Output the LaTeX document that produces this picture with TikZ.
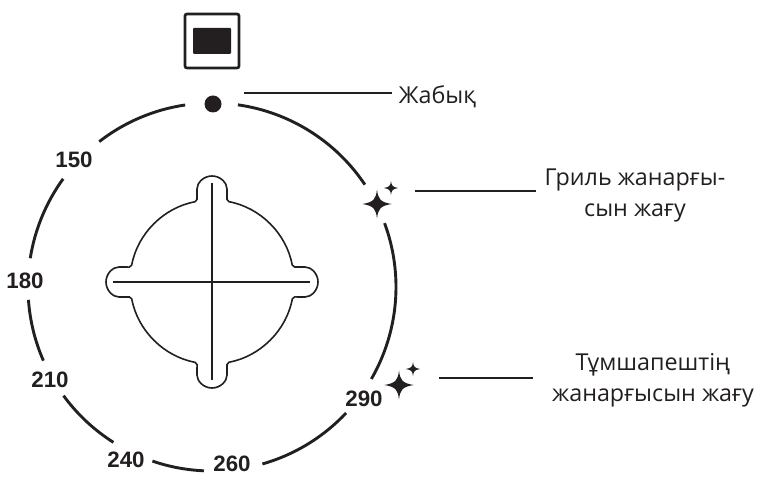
\documentclass[tikz,border=0pt]{standalone}
\usepackage{fontspec}
\setmainfont{Open Sans}
\newfontfamily\numfont{Liberation Sans}
\definecolor{ink}{HTML}{231F20}
\newcommand{\sparkle}[3]{\fill[ink,shift={(#1,#2)},scale=#3] (0,1) .. controls (0.08,0.35) and (0.2,0.14) .. (1,0) .. controls (0.2,-0.14) and (0.08,-0.35) .. (0,-1) .. controls (-0.08,-0.35) and (-0.2,-0.14) .. (-1,0) .. controls (-0.2,0.14) and (-0.08,0.35) .. cycle;}
\newcommand{\ringarc}[2]{\draw[ring] ([shift={(#1:184pt)}]ringc) arc[start angle=#1,end angle=#2,radius=184pt];}
\tikzset{
  ring/.style={draw=ink,line width=2.9pt},
  leader/.style={draw=ink,line width=2.3pt},
  knobline/.style={draw=ink,line width=2.6pt},
  numlabel/.style={text=ink,font=\numfont\fontsize{22.3}{22.3}\selectfont\bfseries,inner sep=0pt},
  txtlabel/.style={text=ink,font=\fontsize{23.3}{31}\selectfont,inner sep=0pt,align=center}
}
\begin{document}
\begin{tikzpicture}[x=1pt,y=1pt]
\useasboundingbox (0,0) rectangle (759,476);
\coordinate (ringc) at (212,189);
\coordinate (k) at (212,194);
% oven icon
\node[draw=ink,line width=2.7pt,rounded corners=2pt,minimum width=54pt,minimum height=54pt,inner sep=0pt] (icon) at (212,435) {};
\node[fill=ink,rounded corners=1pt,minimum width=38pt,minimum height=26pt,inner sep=0pt] (iconin) at (212,435) {};
\node[circle,fill=ink,minimum size=17pt,inner sep=0pt] (dot) at (213,372) {};
% ring
\ringarc{81.9}{33.8}
\ringarc{20.3}{-30}
\ringarc{-43.2}{-74.1}
\ringarc{-92.5}{-108.9}
\ringarc{-122.4}{-143.8}
\ringarc{-156.4}{-176}
\ringarc{171}{144}
\ringarc{127.8}{98.4}
% knob
\draw[ink,line width=1.6pt,rounded corners=2pt,shift={(k)}]
  (15,86) -- (15,91) arc[start angle=0,end angle=180,radius=15pt] -- (-15,80.6)
  arc[start angle=100.5,end angle=169.5,radius=82pt] -- (-91,15)
  arc[start angle=90,end angle=270,radius=15pt] -- (-80.6,-15)
  arc[start angle=190.5,end angle=259.5,radius=82pt] -- (-15,-91)
  arc[start angle=180,end angle=360,radius=15pt] -- (15,-80.6)
  arc[start angle=280.5,end angle=349.5,radius=82pt] -- (91,-15)
  arc[start angle=-90,end angle=90,radius=15pt] -- (80.6,15)
  arc[start angle=10.5,end angle=79.5,radius=82pt] -- cycle;
\coordinate (kt) at (212,293);
\coordinate (kb) at (212,96);
\coordinate (kl) at (113,194);
\coordinate (kr) at (310,194);
\draw[knobline] (kt) -- (kb);
\draw[knobline] (kl) -- (kr);
% sparkles
\sparkle{377}{272}{14.5}
\sparkle{391}{288}{7}
\sparkle{399}{91}{14.5}
\sparkle{413}{107}{7}
% leaders
\coordinate (a1) at (244,383.3);
\coordinate (a2) at (392,383.3);
\coordinate (b1) at (415,285.3);
\coordinate (b2) at (536,285.3);
\coordinate (c1) at (439,98);
\coordinate (c2) at (533,98);
\draw[leader] (a1) -- (a2);
\draw[leader] (b1) -- (b2);
\draw[leader] (c1) -- (c2);
% labels
\node[txtlabel,anchor=base] (t1) at (437.5,372) {Жабық};
\node[txtlabel] (t2) at (635,281) {Гриль жанарғы-\\сын жағу};
\node[txtlabel] (t3) at (653,96) {Тұмшапештің\\жанарғысын жағу};
\node[numlabel] (n150) at (74,316) {150};
\node[numlabel] (n180) at (25,195) {180};
\node[numlabel] (n210) at (50,96) {210};
\node[numlabel] (n240) at (126,16) {240};
\node[numlabel] (n260) at (232,12) {260};
\node[numlabel] (n290) at (364,77) {290};
\end{tikzpicture}
\end{document}
